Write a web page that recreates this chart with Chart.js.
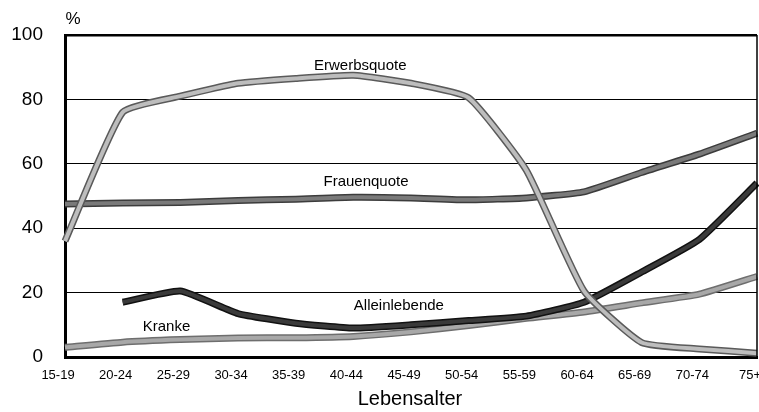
<!DOCTYPE html>
<html>
<head>
<meta charset="utf-8">
<script src="https://cdn.jsdelivr.net/npm/chart.js@4"></script>
<style>
  html, body { margin: 0; padding: 0; background: #fff; }
  #wrap { width: 759px; height: 412px; position: relative; }
</style>
</head>
<body>
<div id="wrap"><canvas id="c"></canvas></div>
<script>
/* ── Data ───────────────────────────────────────────── */
const ages = ['15-19','20-24','25-29','30-34','35-39','40-44','45-49','50-54','55-59','60-64','65-69','70-74','75+'];
const yTicks = [0, 20, 40, 60, 80, 100];

const erwerbsquote  = [36, 76, 81, 85, 86.5, 87.5, 85, 80.5, 58, 20.5, 4.5, 2.5, 1.2];
const frauenquote   = [47.5, 47.8, 48, 48.6, 49, 49.6, 49.4, 48.8, 49.4, 51.3, 57.3, 63, 69.5];
const alleinlebende = [null, 17, 20.5, 13.5, 10.5, 9, 10, 11.3, 12.7, 17, 26.4, 36.5, 54];
const kranke        = [3, 4.6, 5.4, 5.9, 6, 6.4, 7.8, 9.8, 12, 14, 16.8, 19.5, 25];

const FONT = '"Liberation Sans", Arial, Helvetica, sans-serif';

/* ── Series styles ──────────────────────────────────── */
function pair(data, outer, inner, order) {
  const base = { data, pointRadius: 0, tension: 0.15, spanGaps: false, fill: false };
  return [
    { ...base, borderColor: outer, borderWidth: 7, order: order + 1 },
    { ...base, borderColor: inner, borderWidth: 4, order: order },
  ];
}

const datasets = [
  ...pair(kranke,        '#6e6e6e', '#a8a8a8', 8),
  ...pair(frauenquote,   '#3c3c3c', '#7a7a7a', 6),
  ...pair(alleinlebende, '#111111', '#3a3a3a', 4),
  ...pair(erwerbsquote,  '#5a5a5a', '#bdbdbd', 2),
];

/* ── Labels inside the plot ─────────────────────────── */
const seriesLabels = [
  { text: 'Erwerbsquote',  i: 5.12, v: 90.5 },
  { text: 'Frauenquote',   i: 5.22, v: 54.5 },
  { text: 'Alleinlebende', i: 5.79, v: 16 },
  { text: 'Kranke',        i: 1.76, v: 9.5 },
];

const decor = {
  id: 'decor',
  afterDraw(chart) {
    const { ctx, chartArea: a, scales: { x, y } } = chart;
    const step = x.getPixelForValue(1) - x.getPixelForValue(0);
    ctx.save();
    ctx.fillStyle = '#000';
    ctx.textAlign = 'center';
    ctx.textBaseline = 'middle';
    ctx.font = '15px ' + FONT;
    seriesLabels.forEach(l => {
      ctx.fillText(l.text, x.getPixelForValue(0) + l.i * step, y.getPixelForValue(l.v));
    });
    ctx.font = '17px ' + FONT;
    ctx.fillText('%', 73, 19);
    ctx.font = '20px ' + FONT;
    ctx.fillText('Lebensalter', 410, 399);
    // right frame
    ctx.strokeStyle = '#000';
    ctx.lineWidth = 1.5;
    ctx.beginPath();
    ctx.moveTo(a.right, a.top);
    ctx.lineTo(a.right, a.bottom);
    ctx.stroke();
    ctx.restore();
  }
};

new Chart(document.getElementById('c'), {
  type: 'line',
  data: { labels: ages, datasets },
  options: {
    responsive: true,
    maintainAspectRatio: false,
    animation: false,
    layout: { padding: { top: 35, right: 2, left: 0, bottom: 0 } },
    plugins: { legend: { display: false }, tooltip: { enabled: false } },
    scales: {
      x: {
        offset: false,
        afterFit: s => { s.height = 55; s.paddingLeft = 0; s.paddingRight = 0; },
        grid: { display: false, drawTicks: false },
        border: { display: true, color: '#000', width: 3 },
        ticks: { color: '#000', font: { family: FONT, size: 13 }, padding: 11, labelOffset: -7, autoSkip: false, maxRotation: 0 },
      },
      y: {
        min: 0, max: 100,
        afterFit: s => { s.width = 65; },
        afterBuildTicks: s => { s.ticks = yTicks.map(v => ({ value: v })); },
        grid: {
          drawTicks: false,
          color: '#000',
          lineWidth: c => c.tick.value === 100 ? 2.5 : (c.tick.value === 0 ? 0 : 1),
        },
        border: { display: true, color: '#000', width: 3 },
        ticks: { color: '#000', font: { family: FONT, size: 19 }, padding: 22 },
      },
    },
  },
  plugins: [decor],
});
</script>
</body>
</html>
